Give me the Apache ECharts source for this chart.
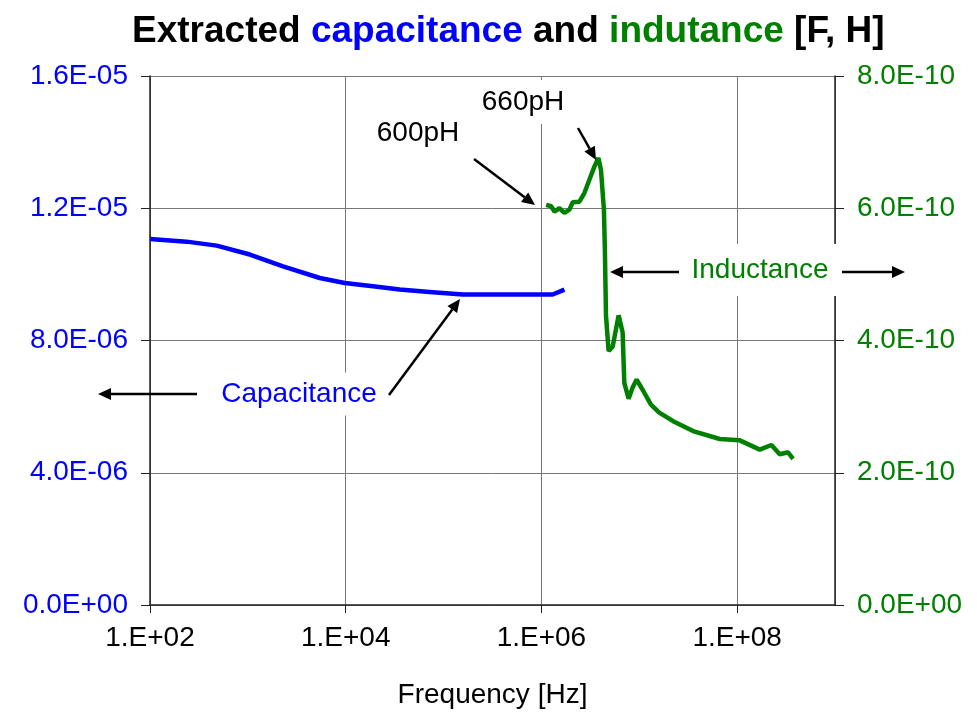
<!DOCTYPE html>
<html><head><meta charset="utf-8">
<script src="https://cdn.jsdelivr.net/npm/echarts@6/dist/echarts.min.js"></script>
<style>html,body{margin:0;padding:0;background:#fff}#c{width:977px;height:714px}</style>
</head><body><div id="c"></div>
<script>
// ---- data ----
const capFreq = [100, 237, 480, 1048, 2291, 5433, 9772, 1.90e4, 3.56e4, 7.19e4, 1.574e5, 5.0e5, 1.303e6, 1.718e6];
const capVal  = [1.107e-5, 1.099e-5, 1.087e-5, 1.060e-5, 1.024e-5, 9.89e-6, 9.74e-6, 9.64e-6, 9.54e-6, 9.47e-6, 9.39e-6, 9.39e-6, 9.39e-6, 9.54e-6];
const indFreq = [1.117e6, 1.256e6, 1.358e6, 1.528e6, 1.718e6, 1.932e6, 2.084e6, 2.443e6, 2.748e6, 3.090e6, 3.475e6, 3.819e6, 4.06e6, 4.35e6, 4.45e6, 4.57e6, 4.86e6, 5.35e6, 6.15e6, 6.76e6, 7.03e6, 7.78e6, 8.55e6, 9.40e6, 1.125e7, 1.316e7, 1.60e7, 2.218e7, 3.548e7, 6.653e7, 1.064e8, 1.702e8, 2.239e8, 2.723e8, 3.311e8, 3.724e8];
const indVal  = [6.05e-10, 6.03e-10, 5.95e-10, 6.00e-10, 5.93e-10, 5.98e-10, 6.09e-10, 6.10e-10, 6.23e-10, 6.43e-10, 6.63e-10, 6.76e-10, 6.58e-10, 5.98e-10, 5.37e-10, 4.37e-10, 3.84e-10, 3.91e-10, 4.38e-10, 4.12e-10, 3.36e-10, 3.12e-10, 3.29e-10, 3.41e-10, 3.21e-10, 3.03e-10, 2.91e-10, 2.78e-10, 2.63e-10, 2.51e-10, 2.49e-10, 2.35e-10, 2.42e-10, 2.28e-10, 2.31e-10, 2.21e-10];
const xMin = 100, xMax = 1e9;
const capMax = 1.6e-5, capStep = 4e-6;
const indMax = 8e-10, indStep = 2e-10;

const FONT = '"Liberation Sans", Arial, sans-serif';
const BLUE = '#0000ff', GREEN = '#008000';

function sci(v) {
  const s = Number(v).toExponential(1).toUpperCase();
  const [m, e] = s.split('E');
  const sign = e[0] === '-' ? '-' : '+';
  const d = e.replace(/[+-]/, '').padStart(2, '0');
  return m + 'E' + sign + d;
}
function xLab(v) {
  const e = Math.round(Math.log10(v));
  if (e % 2 !== 0) return '';
  return '1.E+' + String(e).padStart(2, '0');
}

function arrow(x1, y1, x2, y2) {
  const dx = x2 - x1, dy = y2 - y1, L = Math.hypot(dx, dy);
  const ux = dx / L, uy = dy / L, hl = 13, hw = 6;
  const bx = x2 - ux * hl, by = y2 - uy * hl;
  return [
    { type: 'line', z: 101, shape: { x1: x1, y1: y1, x2: bx, y2: by }, style: { stroke: '#000', lineWidth: 2.5 } },
    { type: 'polygon', z: 101, shape: { points: [[x2, y2], [bx - uy * hw, by + ux * hw], [bx + uy * hw, by - ux * hw]] }, style: { fill: '#000' } }
  ];
}
function label(x, y, t, color, pad) {
  return { type: 'text', z: 100, x: x, y: y, style: { text: t, fill: color, font: '28px ' + FONT, align: 'center', verticalAlign: 'middle', backgroundColor: '#fff', padding: pad } };
}

const chart = echarts.init(document.getElementById('c'), null, { renderer: 'canvas' });
chart.setOption({
  animation: false,
  backgroundColor: '#fff',
  title: {
    left: 127, top: 8,
    text: '{k|Extracted }{b|capacitance}{k| and }{g|indutance}{k| [F, H]}',
    textStyle: { rich: {
      k: { fontFamily: FONT, fontWeight: 'bold', fontSize: 37, color: '#000' },
      b: { fontFamily: FONT, fontWeight: 'bold', fontSize: 37, color: BLUE },
      g: { fontFamily: FONT, fontWeight: 'bold', fontSize: 37, color: GREEN }
    } }
  },
  grid: { left: 150, right: 142, top: 76, bottom: 108, containLabel: false },
  xAxis: {
    type: 'log', logBase: 100, min: xMin, max: xMax, splitNumber: 4,
    name: 'Frequency [Hz]', nameLocation: 'middle', nameGap: 76,
    nameTextStyle: { fontFamily: FONT, fontSize: 28, color: '#000' },
    axisLine: { show: true, lineStyle: { color: '#222', width: 1.5 } },
    axisTick: { show: true, inside: false, length: 8, lineStyle: { color: '#222' } },
    minorTick: { show: false },
    axisLabel: { formatter: xLab, fontFamily: FONT, fontSize: 28, color: '#000', margin: 19, showMaxLabel: false },
    splitLine: { show: true, lineStyle: { color: '#777', width: 1 } },
    minorSplitLine: { show: false }
  },
  yAxis: [
    {
      type: 'value', min: 0, max: capMax, interval: capStep, position: 'left',
      axisLine: { show: true, lineStyle: { color: '#222', width: 1.5 } },
      axisTick: { show: true, length: 9, lineStyle: { color: '#222' } },
      axisLabel: { formatter: sci, fontFamily: FONT, fontSize: 28, color: BLUE, margin: 22 },
      splitLine: { show: true, lineStyle: { color: '#777', width: 1 } }
    },
    {
      type: 'value', min: 0, max: indMax, interval: indStep, position: 'right',
      axisLine: { show: true, lineStyle: { color: '#222', width: 1.5 } },
      axisTick: { show: true, length: 9, lineStyle: { color: '#222' } },
      axisLabel: { formatter: sci, fontFamily: FONT, fontSize: 28, color: GREEN, margin: 22 },
      splitLine: { show: false }
    }
  ],
  series: [
    { name: 'Capacitance', type: 'line', yAxisIndex: 0, showSymbol: false, symbol: 'none',
      lineStyle: { color: BLUE, width: 4.5 }, data: capFreq.map((f, i) => [f, capVal[i]]) },
    { name: 'Inductance', type: 'line', yAxisIndex: 1, showSymbol: false, symbol: 'none',
      lineStyle: { color: GREEN, width: 4.5 }, data: indFreq.map((f, i) => [f, indVal[i]]) }
  ],
  graphic: [
    label(418, 133, '600pH', '#000', [4, 6, 6, 6]),
    label(523, 102, '660pH', '#000', [4, 6, 12, 6]),
    label(299, 394, 'Capacitance', BLUE, [5, 8, 10, 8]),
    label(760, 270, 'Inductance', GREEN, [14, 8, 10, 8]),
    ...arrow(474, 159, 535, 205),
    ...arrow(578, 128, 596, 160),
    ...arrow(197, 394, 98, 394),
    ...arrow(389, 395, 460, 299),
    ...arrow(679, 272, 610, 272),
    ...arrow(842, 272, 905, 272)
  ]
});
</script></body></html>
